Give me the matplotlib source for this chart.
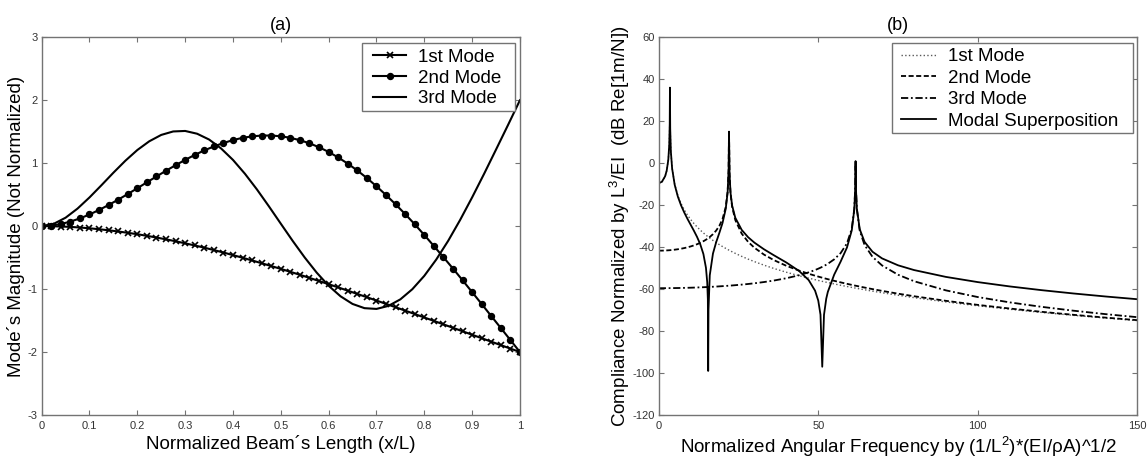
import matplotlib
matplotlib.use("Agg")
import matplotlib.pyplot as plt
from matplotlib.patches import Rectangle

plt.rcParams['font.family'] = ['Liberation Sans', 'DejaVu Sans']
plt.rcParams['mathtext.fontset'] = 'custom'
plt.rcParams['mathtext.rm'] = 'Liberation Sans'
plt.rcParams['mathtext.it'] = 'Liberation Sans:italic'
plt.rcParams['mathtext.bf'] = 'Liberation Sans:bold'
plt.rcParams['axes.unicode_minus'] = False

# (a) cantilever mode shapes along the beam
x_pos = [0.00, 0.02, 0.04, 0.06, 0.08, 0.10, 0.12, 0.14, 0.16, 0.18,
         0.20, 0.22, 0.24, 0.26, 0.28, 0.30, 0.32, 0.34, 0.36, 0.38,
         0.40, 0.42, 0.44, 0.46, 0.48, 0.50, 0.52, 0.54, 0.56, 0.58,
         0.60, 0.62, 0.64, 0.66, 0.68, 0.70, 0.72, 0.74, 0.76, 0.78,
         0.80, 0.82, 0.84, 0.86, 0.88, 0.90, 0.92, 0.94, 0.96, 0.98, 1.00]

mode1_shape = [0.000, -0.001, -0.006, -0.012, -0.022, -0.034, -0.049, -0.066, -0.085, -0.106,
               -0.128, -0.154, -0.181, -0.210, -0.240, -0.273, -0.307, -0.342, -0.380, -0.419,
               -0.460, -0.502, -0.545, -0.589, -0.634, -0.679, -0.726, -0.773, -0.822, -0.872,
               -0.922, -0.973, -1.025, -1.077, -1.129, -1.182, -1.235, -1.288, -1.342, -1.396,
               -1.451, -1.505, -1.560, -1.615, -1.670, -1.725, -1.780, -1.835, -1.890, -1.945, -2.000]

mode2_shape = [0.000, 0.009, 0.033, 0.072, 0.123, 0.185, 0.257, 0.336, 0.421, 0.510,
               0.602, 0.696, 0.789, 0.880, 0.968, 1.052, 1.131, 1.203, 1.266, 1.320,
               1.367, 1.403, 1.426, 1.439, 1.439, 1.428, 1.403, 1.365, 1.316, 1.253,
               1.179, 1.091, 0.993, 0.884, 0.764, 0.634, 0.494, 0.347, 0.192, 0.030,
               -0.140, -0.315, -0.493, -0.674, -0.859, -1.048, -1.237, -1.428, -1.618, -1.809, -2.000]

x_pos_fine = [0.000, 0.025, 0.050, 0.075, 0.100, 0.125, 0.150, 0.175, 0.200, 0.225,
              0.250, 0.275, 0.300, 0.325, 0.350, 0.375, 0.400, 0.425, 0.450, 0.475,
              0.500, 0.525, 0.550, 0.575, 0.600, 0.625, 0.650, 0.675, 0.700, 0.725,
              0.750, 0.775, 0.800, 0.825, 0.850, 0.875, 0.900, 0.925, 0.950, 0.975, 1.000]

mode3_shape = [0.000, 0.036, 0.134, 0.279, 0.456, 0.650, 0.849, 1.039, 1.209, 1.348,
               1.449, 1.504, 1.512, 1.468, 1.376, 1.235, 1.052, 0.832, 0.584, 0.316,
               0.039, -0.236, -0.498, -0.738, -0.947, -1.115, -1.236, -1.303, -1.315, -1.267,
               -1.163, -1.002, -0.790, -0.531, -0.233, 0.099, 0.456, 0.830, 1.216, 1.605, 2.000]

# (b) tip receptance in dB, per mode and summed
freq = [0, 1, 2, 2.5, 3, 3.3, 3.45, 3.516, 3.6, 3.8,
        4.2, 5, 6, 7, 8, 9, 10, 11, 12, 13,
        14, 14.8, 15.2, 15.4, 15.5, 15.6, 16, 17, 18, 19,
        20, 21, 21.6, 21.9, 22.03, 22.2, 22.5, 23, 24, 26,
        28, 30, 33, 36, 40, 44, 47, 49, 50, 50.7,
        51.25, 51.8, 52.5, 53, 55, 57, 59, 60.5, 61.3, 61.55,
        61.7, 61.85, 62.1, 63, 64.5, 67, 70, 75, 80, 90,
        100, 110, 120, 130, 140, 150]

frf_mode1 = [-9.80, -9.07, -6.41, -3.68, 1.51, 8.68, 18.80, 36.0, 16.51, 5.69,
             -2.41, -9.99, -15.43, -19.24, -22.22, -24.69, -26.81, -28.68, -30.35, -31.86,
             -33.24, -34.26, -34.75, -34.99, -35.11, -35.23, -35.69, -36.80, -37.83, -38.81,
             -39.73, -40.60, -41.10, -41.35, -41.46, -41.59, -41.83, -42.22, -42.98, -44.40,
             -45.71, -46.92, -48.60, -50.13, -51.97, -53.64, -54.79, -55.52, -55.88, -56.12,
             -56.31, -56.49, -56.73, -56.89, -57.54, -58.16, -58.76, -59.20, -59.43, -59.50,
             -59.54, -59.58, -59.66, -59.91, -60.31, -60.98, -61.74, -62.94, -64.07, -66.12,
             -67.95, -69.61, -71.12, -72.51, -73.80, -75.00]

frf_mode2 = [-41.68, -41.67, -41.61, -41.57, -41.52, -41.49, -41.47, -41.46, -41.45, -41.42,
             -41.36, -41.22, -41.01, -40.76, -40.46, -40.10, -39.68, -39.19, -38.63, -37.97,
             -37.19, -36.47, -36.07, -35.86, -35.75, -35.64, -35.18, -33.83, -32.12, -29.86,
             -26.60, -20.93, -13.52, -3.39, 15.0, -5.25, -14.29, -20.73, -27.09, -33.56,
             -37.46, -40.31, -43.57, -46.13, -48.90, -51.19, -52.69, -53.61, -54.04, -54.34,
             -54.57, -54.80, -55.08, -55.28, -56.06, -56.79, -57.49, -57.99, -58.26, -58.34,
             -58.39, -58.43, -58.51, -58.80, -59.26, -60.01, -60.86, -62.18, -63.40, -65.59,
             -67.53, -69.26, -70.83, -72.26, -73.59, -74.81]

frf_mode3 = [-59.57, -59.57, -59.56, -59.55, -59.55, -59.54, -59.54, -59.54, -59.54, -59.54,
             -59.53, -59.51, -59.49, -59.46, -59.42, -59.38, -59.34, -59.29, -59.23, -59.17,
             -59.11, -59.06, -59.03, -59.01, -59.00, -58.99, -58.96, -58.88, -58.80, -58.70,
             -58.60, -58.50, -58.43, -58.40, -58.39, -58.36, -58.33, -58.27, -58.14, -57.87,
             -57.57, -57.23, -56.64, -55.95, -54.83, -53.40, -52.03, -50.92, -50.28, -49.80,
             -49.40, -48.97, -48.39, -47.94, -45.82, -42.88, -38.21, -31.26, -21.73, -13.11,
             1.0, -13.50, -21.92, -32.18, -38.93, -44.64, -48.74, -53.15, -56.24, -60.61,
             -63.80, -66.33, -68.46, -70.30, -71.93, -73.39]

frf_total = [-9.56, -8.84, -6.24, -3.56, 1.58, 8.71, 18.81, 36.0, 16.49, 5.65,
             -2.52, -10.26, -15.96, -20.09, -23.49, -26.50, -29.32, -32.12, -35.10, -38.56,
             -43.28, -49.82, -56.74, -64.93, -99.0, -69.78, -53.41, -43.06, -37.67, -33.23,
             -28.49, -21.76, -13.83, -3.49, 15.0, -5.14, -13.99, -20.13, -26.01, -31.78,
             -35.26, -37.87, -41.04, -43.80, -47.34, -51.38, -55.71, -60.75, -65.48, -72.19,
             -97.0, -72.28, -64.59, -61.33, -53.09, -46.95, -40.18, -32.04, -21.97, -13.20,
             1.0, -13.41, -21.68, -31.45, -37.48, -42.21, -45.38, -48.66, -50.92, -54.19,
             -56.67, -58.73, -60.51, -62.09, -63.52, -64.83]

LABEL_SIZE = 13.5
TICK_SIZE = 8
SPINE_GRAY = '0.45'


def style_axes(ax):
    for sp in ax.spines.values():
        sp.set_color(SPINE_GRAY)
        sp.set_linewidth(1.0)
    ax.tick_params(direction='in', top=True, right=True, length=3.6, width=0.8,
                   color=SPINE_GRAY, labelsize=TICK_SIZE, labelcolor='0.2')
    ax.tick_params(axis='x', pad=4)
    ax.tick_params(axis='y', pad=3)


def boxed_legend(ax, frame, anchor, spacing, handle_len):
    # legend without its own frame, boxed by a plain rectangle (x0, y0, x1, y1 in axes fraction)
    x0, y0, x1, y1 = frame
    ax.add_patch(Rectangle((x0, y0), x1 - x0, y1 - y0, transform=ax.transAxes,
                           facecolor='white', edgecolor=SPINE_GRAY, lw=1.0,
                           zorder=4.9, clip_on=False))
    leg = ax.legend(loc='upper left', bbox_to_anchor=anchor, fontsize=LABEL_SIZE,
                    numpoints=1, frameon=False, borderaxespad=0, borderpad=0,
                    labelspacing=spacing, handlelength=handle_len, handletextpad=0.6)
    leg.set_zorder(5)
    return leg


fig = plt.figure(figsize=(11.48, 4.58), dpi=100)
ax_a = fig.add_axes([0.0363, 0.0939, 0.4166, 0.8247])
ax_b = fig.add_axes([0.5738, 0.0939, 0.4169, 0.8247])

# ---- (a) mode shapes
ax_a.plot(x_pos, mode1_shape, '-', color='k', lw=1.5, marker='x', ms=4, mew=1.2,
          label='1st Mode')
ax_a.plot(x_pos, mode2_shape, '-', color='k', lw=1.5, marker='o', ms=4.3, mfc='k',
          label='2nd Mode')
ax_a.plot(x_pos_fine, mode3_shape, '-', color='k', lw=1.5, label='3rd Mode')
ax_a.set_xlim(0, 1)
ax_a.set_ylim(-3, 3)
ax_a.set_xticks([0, 0.1, 0.2, 0.3, 0.4, 0.5, 0.6, 0.7, 0.8, 0.9, 1])
ax_a.set_xticklabels(['0', '0.1', '0.2', '0.3', '0.4', '0.5', '0.6', '0.7', '0.8', '0.9', '1'])
ax_a.set_yticks([-3, -2, -1, 0, 1, 2, 3])
style_axes(ax_a)
ax_a.set_xlabel('Normalized Beam\u00b4s Length (x/L)', fontsize=LABEL_SIZE, labelpad=3)
ax_a.set_ylabel('Mode\u00b4s Magnitude (Not Normalized)', fontsize=LABEL_SIZE, labelpad=2)
ax_a.set_title('(a)', fontsize=13, pad=5)
boxed_legend(ax_a, (0.669, 0.805, 0.9896, 0.9857), (0.692, 0.970), 0.2, 1.8)

# ---- (b) frequency response
ax_b.plot(freq, frf_mode1, linestyle=':', color='0.35', lw=1.0, label='1st Mode')
ax_b.plot(freq, frf_mode2, color='k', lw=1.3, dashes=(2.8, 1.4), label='2nd Mode')
ax_b.plot(freq, frf_mode3, color='k', lw=1.3, dashes=(4, 1.5, 1, 1.5), label='3rd Mode')
ax_b.plot(freq, frf_total, '-', color='k', lw=1.3, label='Modal Superposition')
ax_b.set_xlim(0, 150)
ax_b.set_ylim(-120, 60)
ax_b.set_xticks([0, 50, 100, 150])
ax_b.set_yticks(list(range(-120, 61, 20)))
style_axes(ax_b)
ax_b.set_xlabel('Normalized Angular Frequency by (1/L$^2$)*(EI/\u03c1A)^1/2',
                fontsize=LABEL_SIZE, labelpad=3)
ax_b.set_ylabel('Compliance Normalized by L$^3$/EI  (dB Re[1m/N])',
                fontsize=LABEL_SIZE, labelpad=0)
ax_b.set_title('(b)', fontsize=13, pad=5)
boxed_legend(ax_b, (0.4868, 0.7458, 0.9904, 0.9857), (0.5056, 0.971), 0.23, 1.9)

fig.savefig('out.png', dpi=100)
